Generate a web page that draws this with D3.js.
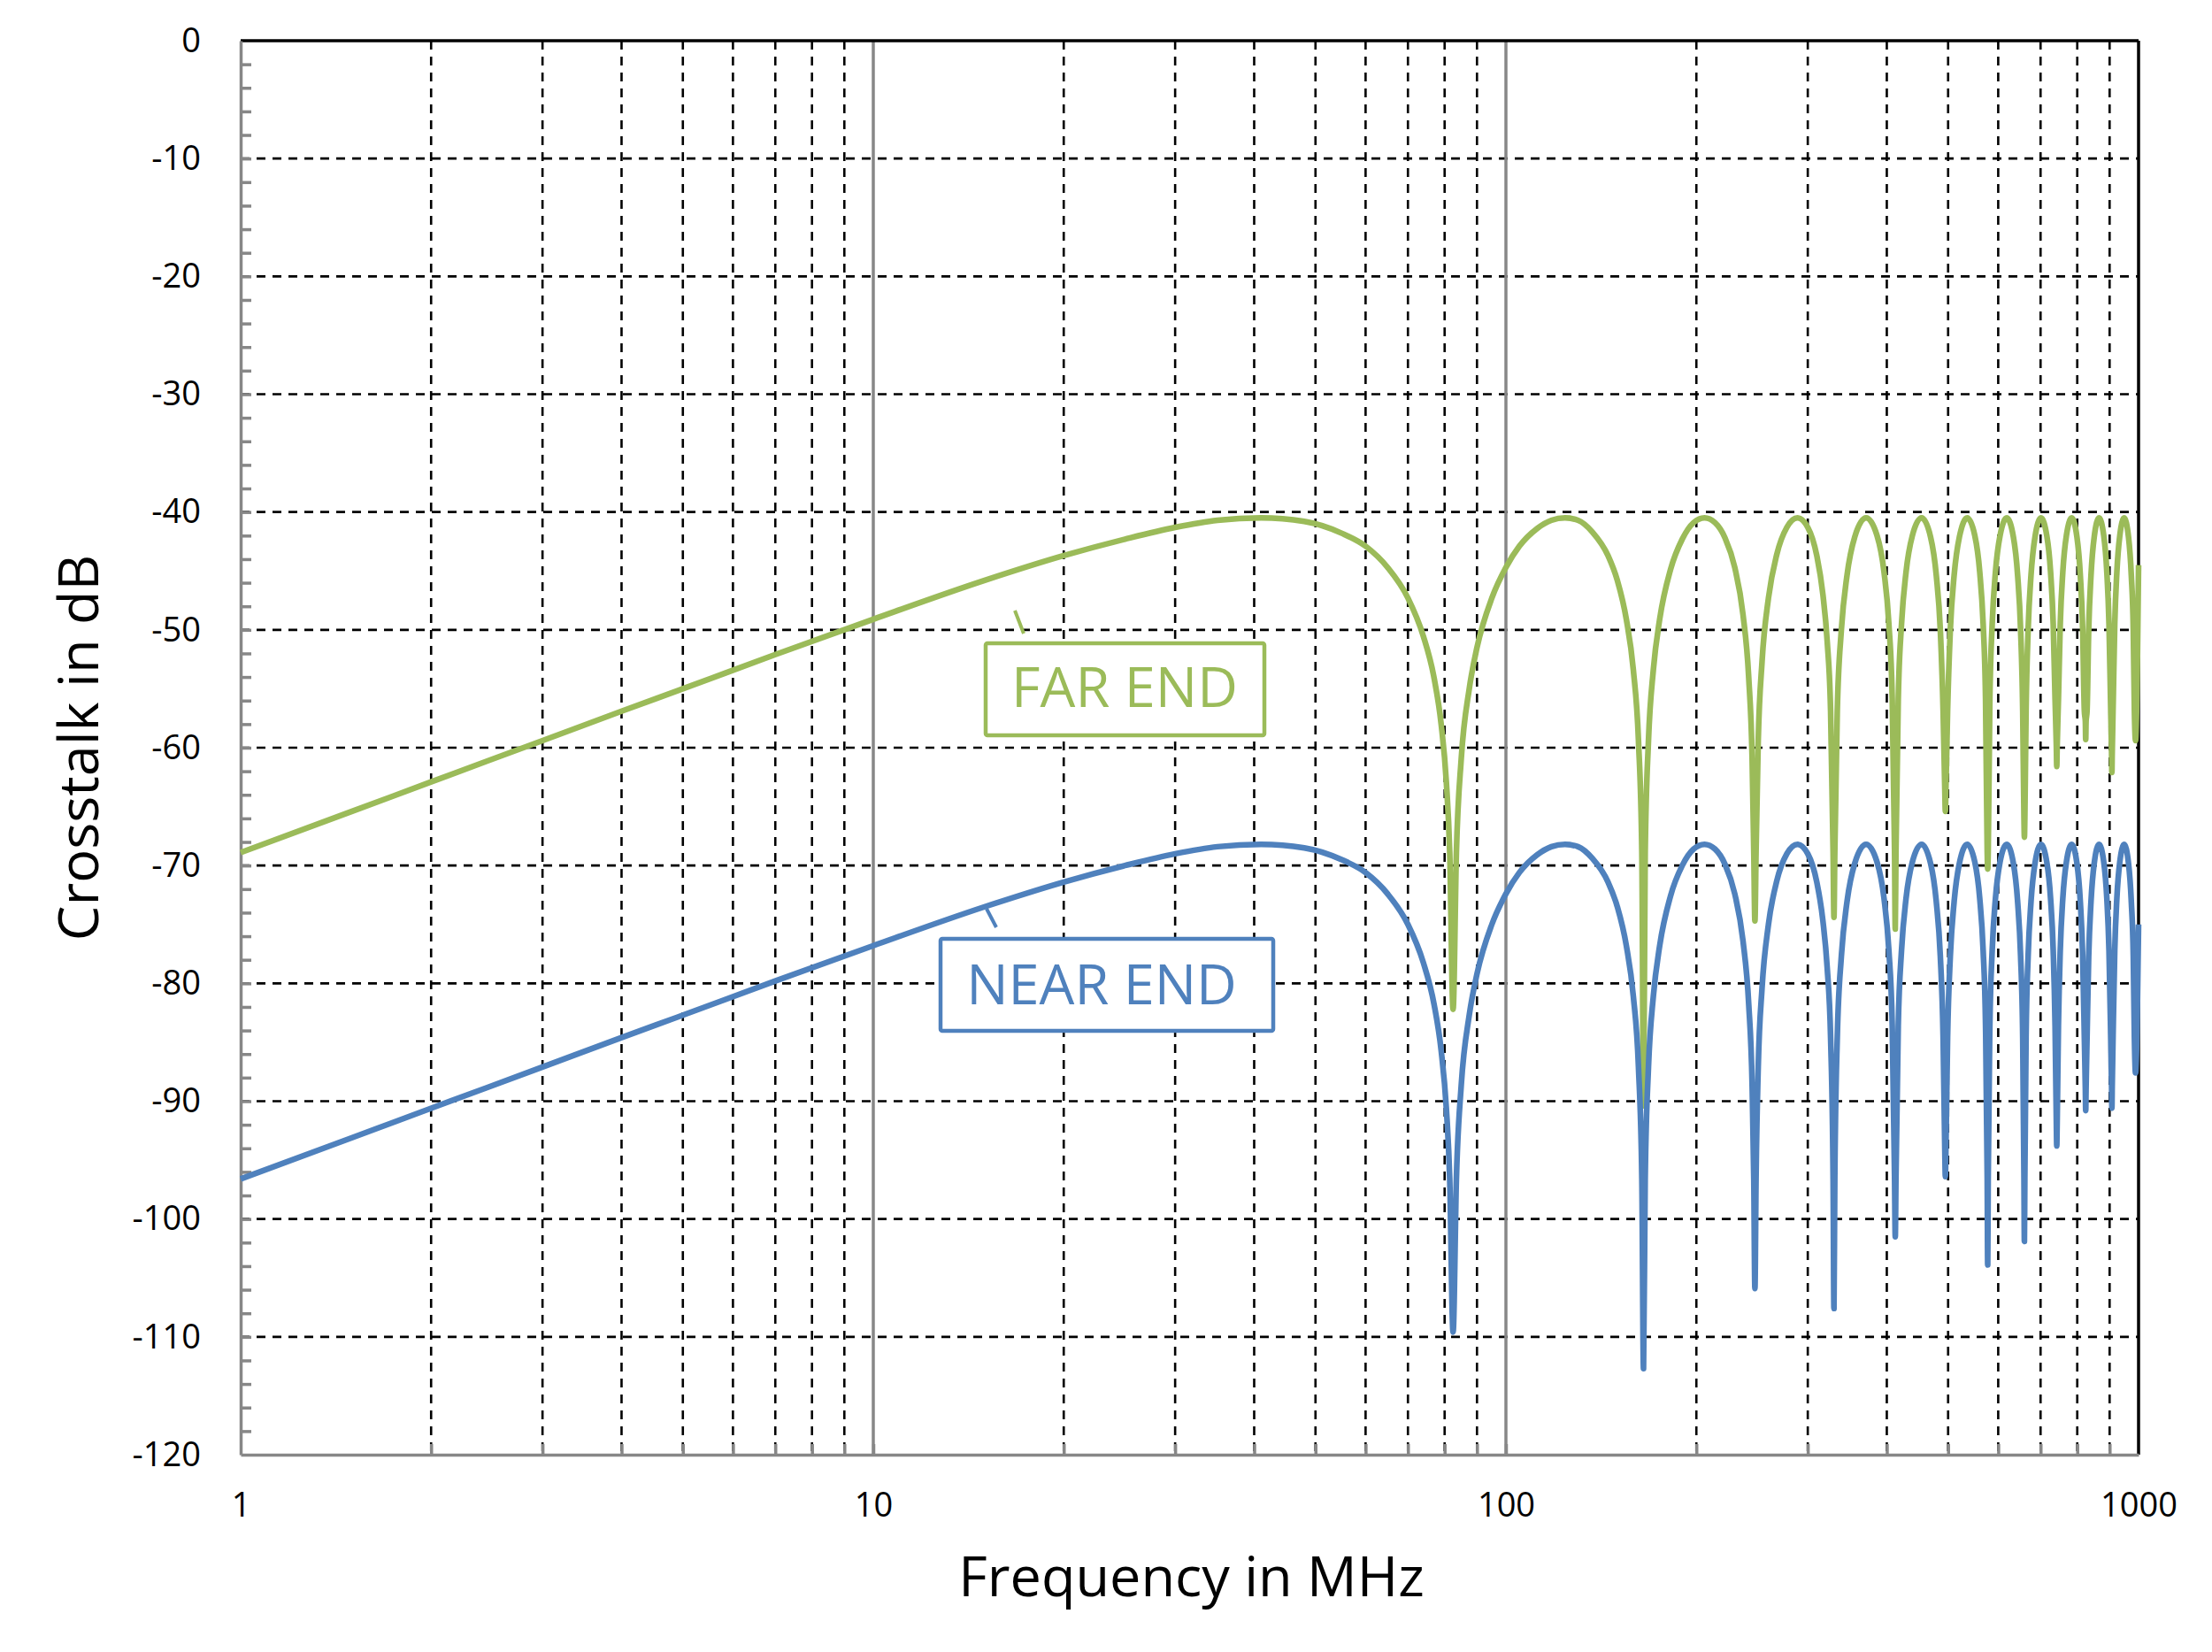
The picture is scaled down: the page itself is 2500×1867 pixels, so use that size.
<!DOCTYPE html>
<html>
<head>
<meta charset="utf-8">
<script src="https://cdn.jsdelivr.net/npm/d3@7"></script>
<style>
  body { margin: 0; background: #fff; }
  text { font-family: "Open Sans", sans-serif; }
</style>
</head>
<body>
<div id="crosstalk"></div>
<script>
// frequency samples (MHz), one row per lobe
var freqMHz = [
  1, 1.5, 2, 3, 4, 5, 7, 10, 15, 20, 25, 30, 35, 41, 48, 55, 60, 65, 70, 74, 77, 79, 80.5, 81.5, 82.5,
  83.5, 85, 87.5, 90, 95, 100, 105, 112, 118, 124, 130, 137, 145, 150, 155, 159, 162, 164, 165,
  166, 168, 171, 175, 182, 190, 198, 206, 214, 222, 230, 237, 242, 245, 246.5, 247.5,
  248.5, 250.5, 254, 260, 268, 278, 289, 300, 310, 317, 322, 326, 329, 330,
  331, 334, 339, 346, 356, 371, 386, 396, 403, 408, 411.5, 412.5,
  413.5, 417, 422, 429, 439, 454, 469, 479, 486, 491, 494, 495,
  496, 499, 504, 511, 521, 536, 551, 561, 568, 573, 576.5, 577.5,
  578.5, 582, 587, 594, 604, 619, 634, 644, 651, 656, 659, 660,
  661, 664, 669, 676, 686, 701, 716, 726, 733, 738, 741.5, 742.5,
  743.5, 747, 752, 759, 769, 784, 799, 809, 816, 821, 824, 825,
  826, 829, 834, 841, 851, 866, 881, 891, 898, 903, 906.5, 907.5,
  908.5, 912, 917, 924, 934, 949, 964, 974, 981, 985, 989, 1000
];

// near end crosstalk (dB)
var nearEndDb = [
  -96.6, -93.1, -90.6, -87.1, -84.6, -82.7, -79.8, -76.8, -73.5, -71.4, -70.0, -69.0, -68.4, -68.2, -68.5, -69.5, -70.6, -72.4, -75.0, -78.2, -81.8, -85.7, -90.6, -96.6, -109.6,
  -96.6, -88.6, -82.7, -79.2, -75.0, -72.4, -70.6, -69.1, -68.4, -68.2, -68.4, -69.4, -71.4, -73.5, -76.8, -81.1, -87.1, -96.6, -112.7,
  -96.6, -87.1, -81.1, -76.8, -72.6, -70.0, -68.6, -68.2, -68.6, -69.9, -72.4, -76.4, -81.8, -88.6, -96.6, -105.9,
  -96.6, -87.1, -80.4, -75.0, -71.3, -69.0, -68.2, -69.0, -71.4, -74.7, -78.7, -84.6, -96.6, -107.6,
  -96.6, -84.6, -77.7, -73.1, -69.8, -68.2, -69.7, -72.8, -77.2, -83.6, -96.6, -101.5,
  -96.6, -83.6, -77.2, -72.8, -69.7, -68.2, -69.8, -73.1, -77.7, -84.6, -94.0, -96.4,
  -94.0, -84.6, -77.7, -73.1, -69.8, -68.2, -69.7, -72.8, -77.2, -83.6, -96.6, -103.9,
  -96.6, -83.6, -77.2, -72.8, -69.7, -68.2, -69.8, -73.1, -77.7, -84.6, -96.6, -101.9,
  -96.6, -84.6, -77.7, -73.1, -69.8, -68.2, -69.7, -72.8, -77.2, -83.6, -92.0, -93.8,
  -92.0, -83.6, -77.2, -72.8, -69.7, -68.2, -69.8, -73.1, -77.7, -84.6, -89.0, -90.8,
  -89.0, -84.6, -77.7, -73.1, -69.8, -68.2, -69.7, -72.8, -77.2, -83.6, -88.8, -90.6,
  -88.8, -83.6, -77.2, -72.8, -69.7, -68.2, -69.8, -73.1, -77.7, -84.6, -87.6, -75.0
];

// far end crosstalk (dB)
var farEndDb = [
  -68.9, -65.4, -62.9, -59.4, -56.9, -55.0, -52.1, -49.1, -45.8, -43.7, -42.3, -41.3, -40.7, -40.5, -40.8, -41.8, -42.9, -44.7, -47.3, -50.5, -54.1, -58.0, -62.9, -68.9, -82.2,
  -68.9, -60.9, -55.0, -51.5, -47.3, -44.7, -42.9, -41.4, -40.7, -40.5, -40.7, -41.7, -43.7, -45.8, -49.1, -53.4, -59.4, -68.9, -90.4,
  -68.9, -59.4, -53.4, -49.1, -44.9, -42.3, -40.9, -40.5, -40.9, -42.2, -44.7, -48.7, -54.1, -60.9, -68.9, -74.7,
  -68.9, -59.4, -52.7, -47.3, -43.6, -41.3, -40.5, -41.3, -43.7, -47.0, -51.0, -56.9, -68.9, -74.4,
  -68.9, -56.9, -50.0, -45.4, -42.1, -40.5, -42.0, -45.1, -49.5, -55.9, -68.9, -75.4,
  -68.9, -55.9, -49.5, -45.1, -42.0, -40.5, -42.1, -45.4, -50.0, -56.9, -63.5, -65.4,
  -63.5, -56.9, -50.0, -45.4, -42.1, -40.5, -42.0, -45.1, -49.5, -55.9, -68.9, -70.3,
  -68.9, -55.9, -49.5, -45.1, -42.0, -40.5, -42.1, -45.4, -50.0, -56.9, -66.0, -67.6,
  -66.0, -56.9, -50.0, -45.4, -42.1, -40.5, -42.0, -45.1, -49.5, -55.9, -60.0, -61.6,
  -60.0, -55.9, -49.5, -45.1, -42.0, -40.5, -42.1, -45.4, -50.0, -56.9, -57.8, -59.3,
  -57.8, -56.9, -50.0, -45.4, -42.1, -40.5, -42.0, -45.1, -49.5, -55.9, -60.5, -62.1,
  -60.5, -55.9, -49.5, -45.1, -42.0, -40.5, -42.1, -45.4, -50.0, -56.9, -59.4, -44.5
];

// axis ticks
var xTicks = [1, 10, 100, 1000];
var xMinorTicks = [2, 3, 4, 5, 6, 7, 8, 9, 20, 30, 40, 50, 60, 70, 80, 90, 200, 300, 400, 500, 600, 700, 800, 900];
var yTicks = [0, -10, -20, -30, -40, -50, -60, -70, -80, -90, -100, -110, -120];

var greyAxis = "#878787",
    nearColor = "#4f81bd",
    farColor = "#9bbb59";

// set the dimensions and margins of the graph
var margin = {top: 46, right: 83, bottom: 223, left: 272},
    width = 2500 - margin.left - margin.right,
    height = 1867 - margin.top - margin.bottom;

var svg = d3.select("#crosstalk")
  .append("svg")
    .attr("width", width + margin.left + margin.right)
    .attr("height", height + margin.top + margin.bottom)
  .append("g")
    .attr("transform", "translate(" + margin.left + "," + margin.top + ")");

var x = d3.scaleLog()
  .domain([1, 1000])
  .range([0, width]);

var y = d3.scaleLinear()
  .domain([-120, 0])
  .range([height, 0]);

// dashed grid
svg.append("g")
  .selectAll("line")
  .data(yTicks.filter(function(d) { return d < 0 && d > -120; }))
  .enter()
  .append("line")
    .attr("x1", 0)
    .attr("x2", width)
    .attr("y1", function(d) { return y(d); })
    .attr("y2", function(d) { return y(d); })
    .style("stroke", "#000")
    .style("stroke-width", 2.6)
    .style("stroke-dasharray", "10,8");

svg.append("g")
  .selectAll("line")
  .data(xMinorTicks)
  .enter()
  .append("line")
    .attr("x1", function(d) { return x(d); })
    .attr("x2", function(d) { return x(d); })
    .attr("y1", 0)
    .attr("y2", height)
    .style("stroke", "#000")
    .style("stroke-width", 2.6)
    .style("stroke-dasharray", "10,8");

// solid decade lines
svg.append("g")
  .selectAll("line")
  .data([10, 100])
  .enter()
  .append("line")
    .attr("x1", function(d) { return x(d); })
    .attr("x2", function(d) { return x(d); })
    .attr("y1", 0)
    .attr("y2", height)
    .style("stroke", greyAxis)
    .style("stroke-width", 3.5);

// minor ticks, pointing into the plot
var yMinor = svg.append("g")
  .call(d3.axisLeft(y).tickValues(d3.range(-118, 0, 2)).tickSize(-12).tickFormat(""));
var xMinor = svg.append("g")
  .attr("transform", "translate(0," + height + ")")
  .call(d3.axisBottom(x).tickValues(xMinorTicks.concat([10, 100])).tickSize(-12).tickFormat(""));
[yMinor, xMinor].forEach(function(g) {
  g.select(".domain").remove();
  g.selectAll("line").style("stroke", greyAxis).style("stroke-width", 3.5);
});

// top and right frame
svg.append("line")
  .attr("x1", 0).attr("x2", width).attr("y1", 0).attr("y2", 0)
  .style("stroke", "#000").style("stroke-width", 3.5);
svg.append("line")
  .attr("x1", width).attr("x2", width).attr("y1", 0).attr("y2", height)
  .style("stroke", "#000").style("stroke-width", 3.5);

// Add Y axis (plain hyphen for negatives, like the original)
var yAxis = svg.append("g")
  .call(d3.axisLeft(y).tickValues(yTicks).tickFormat(function(d) { return String(d); })
    .tickSize(0).tickPadding(45));

// Add X axis
var xAxis = svg.append("g")
  .attr("transform", "translate(0," + height + ")")
  .call(d3.axisBottom(x).tickValues(xTicks).tickFormat(function(d) { return String(d); })
    .tickSize(0).tickSizeOuter(0).tickPadding(43));

[yAxis, xAxis].forEach(function(g) {
  g.select(".domain").style("stroke", greyAxis).style("stroke-width", 3.5);
  g.selectAll("text")
    .style("font-family", "'Open Sans', sans-serif")
    .style("font-size", "38px")
    .style("fill", "#000");
});

// curves
var line = d3.line()
  .x(function(d) { return x(d.f); })
  .y(function(d) { return y(d.v); })
  .curve(d3.curveMonotoneX);

var farData = freqMHz.map(function(f, i) { return {f: f, v: farEndDb[i]}; });
var nearData = freqMHz.map(function(f, i) { return {f: f, v: nearEndDb[i]}; });

svg.append("path")
  .datum(farData)
  .attr("d", line)
  .style("fill", "none")
  .style("stroke", farColor)
  .style("stroke-width", 6.5)
  .style("stroke-linejoin", "round");

svg.append("path")
  .datum(nearData)
  .attr("d", line)
  .style("fill", "none")
  .style("stroke", nearColor)
  .style("stroke-width", 6.5)
  .style("stroke-linejoin", "round");

// callouts
function callout(color, text, box, textX, textY, lead) {
  svg.append("line")
    .attr("x1", lead[0]).attr("y1", lead[1])
    .attr("x2", lead[2]).attr("y2", lead[3])
    .style("stroke", color)
    .style("stroke-width", 4);
  svg.append("rect")
    .attr("x", box[0]).attr("y", box[1])
    .attr("width", box[2]).attr("height", box[3])
    .attr("rx", 2)
    .style("fill", "#fff")
    .style("stroke", color)
    .style("stroke-width", 4.5);
  svg.append("text")
    .attr("x", textX)
    .attr("y", textY)
    .attr("text-anchor", "middle")
    .style("font-size", "63px")
    .style("fill", color)
    .text(text);
}
callout(farColor, "FAR END", [842, 681, 315, 104], 999, 753, [875, 644, 885, 670]);
callout(nearColor, "NEAR END", [791, 1015, 376, 104], 973, 1089, [843, 981, 854, 1002]);

// axis titles
svg.append("text")
  .attr("x", width / 2 + 2)
  .attr("y", height + 160)
  .attr("text-anchor", "middle")
  .style("font-size", "63px")
  .style("fill", "#000")
  .text("Frequency in MHz");

svg.append("text")
  .attr("transform", "rotate(-90)")
  .attr("x", -height / 2)
  .attr("y", -161)
  .attr("text-anchor", "middle")
  .style("font-size", "63px")
  .style("fill", "#000")
  .text("Crosstalk in dB");
</script>
</body>
</html>
